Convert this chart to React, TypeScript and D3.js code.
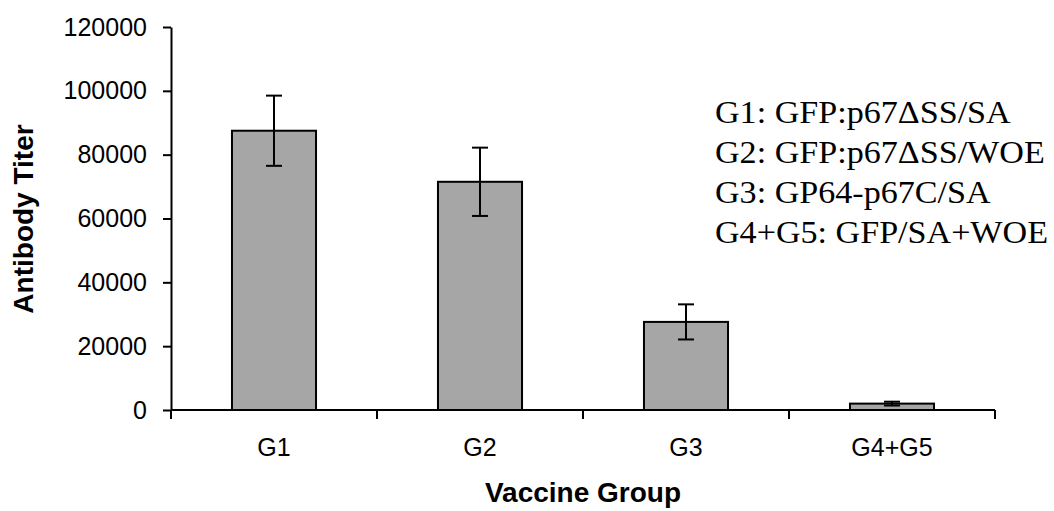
import { useEffect, useRef } from 'react';
import * as d3 from 'd3';

const groups = ['G1', 'G2', 'G3', 'G4+G5'];
const titers = [87500, 71500, 27600, 2000];
const errors = [11000, 10700, 5500, 600];
const yTicks = [0, 20000, 40000, 60000, 80000, 100000, 120000];
const legendLines = [
  'G1: GFP:p67ΔSS/SA',
  'G2: GFP:p67ΔSS/WOE',
  'G3: GP64-p67C/SA',
  'G4+G5: GFP/SA+WOE',
];

const App = () => {
  const svgRef = useRef<SVGSVGElement>(null);

  useEffect(() => {
    drawChart();
  }, []);

  const drawChart = () => {
    const width = 1054;
    const height = 511;
    const left = 171;
    const right = 995;
    const top = 27;
    const bottom = 410;

    const svg = d3.select(svgRef.current)
      .attr('width', width)
      .attr('height', height);
    svg.selectAll('*').remove();

    const data = groups.map((g, i) => ({ group: g, value: titers[i], err: errors[i] }));

    const x = d3.scaleBand()
      .domain(groups)
      .range([left, right])
      .paddingInner(0.592)
      .paddingOuter(0.296);
    const y = d3.scaleLinear().domain([0, 120000]).range([bottom, top]);

    // bars
    svg.append('g')
      .selectAll('rect')
      .data(data)
      .join('rect')
        .attr('x', d => x(d.group)!)
        .attr('y', d => y(d.value))
        .attr('width', x.bandwidth())
        .attr('height', d => bottom - y(d.value))
        .attr('fill', '#a6a6a6')
        .attr('stroke', '#000')
        .attr('stroke-width', 2);

    // error bars
    const cap = 8;
    const eb = svg.append('g')
      .attr('stroke', '#000')
      .attr('stroke-width', 2)
      .selectAll('g')
      .data(data)
      .join('g')
        .attr('transform', d => `translate(${x(d.group)! + x.bandwidth() / 2},0)`);
    eb.append('line')
      .attr('y1', d => y(d.value + d.err))
      .attr('y2', d => y(d.value - d.err));
    eb.append('line')
      .attr('x1', -cap).attr('x2', cap)
      .attr('y1', d => y(d.value + d.err)).attr('y2', d => y(d.value + d.err));
    eb.append('line')
      .attr('x1', -cap).attr('x2', cap)
      .attr('y1', d => y(d.value - d.err)).attr('y2', d => y(d.value - d.err));

    // y axis
    const yAxis = svg.append('g')
      .attr('transform', `translate(${left},0)`)
      .call(
        d3.axisLeft(y)
          .tickValues(yTicks)
          .tickFormat(d3.format('d'))
          .tickSize(8)
          .tickSizeOuter(0)
          .tickPadding(16)
      );
    yAxis.select('.domain').attr('stroke', '#000').attr('stroke-width', 2);
    yAxis.selectAll('.tick line').attr('stroke', '#000').attr('stroke-width', 2);
    yAxis.selectAll('.tick text')
      .attr('font-family', 'Liberation Sans, Arial, sans-serif')
      .attr('font-size', 25)
      .attr('fill', '#000');

    // x axis
    const xAxis = svg.append('g');
    xAxis.append('line')
      .attr('x1', left).attr('x2', right)
      .attr('y1', bottom).attr('y2', bottom)
      .attr('stroke', '#000').attr('stroke-width', 2);
    xAxis.selectAll('line.tick')
      .data(d3.range(groups.length + 1))
      .join('line')
        .attr('class', 'tick')
        .attr('x1', i => left + i * x.step())
        .attr('x2', i => left + i * x.step())
        .attr('y1', bottom)
        .attr('y2', bottom + 9)
        .attr('stroke', '#000').attr('stroke-width', 2);
    xAxis.selectAll('text')
      .data(groups)
      .join('text')
        .attr('x', d => x(d)! + x.bandwidth() / 2)
        .attr('y', 456)
        .attr('text-anchor', 'middle')
        .attr('font-family', 'Liberation Sans, Arial, sans-serif')
        .attr('font-size', 25)
        .text(d => d);

    // axis titles
    svg.append('text')
      .attr('x', (left + right) / 2)
      .attr('y', 502)
      .attr('text-anchor', 'middle')
      .attr('font-family', 'Liberation Sans, Arial, sans-serif')
      .attr('font-weight', 'bold')
      .attr('font-size', 28)
      .text('Vaccine Group');
    svg.append('text')
      .attr('transform', 'translate(33,219) rotate(-90)')
      .attr('text-anchor', 'middle')
      .attr('font-family', 'Liberation Sans, Arial, sans-serif')
      .attr('font-weight', 'bold')
      .attr('font-size', 28)
      .text('Antibody Titer');

    // legend (the source text is a little wider than the font, so stretch it)
    svg.append('g')
      .attr('transform', 'translate(715,0) scale(1.1,1)')
      .selectAll('text')
      .data(legendLines)
      .join('text')
        .attr('x', 0)
        .attr('y', (d, i) => 123 + i * 40)
        .attr('font-family', 'Liberation Serif, Times New Roman, serif')
        .attr('font-size', 31)
        .text(d => d);
  };

  return (
    <svg
      ref={svgRef}
      width={1054}
      height={511}
      style={{ position: 'absolute', left: 0, top: 0, background: '#fff' }}
    />
  );
};

export default App;
